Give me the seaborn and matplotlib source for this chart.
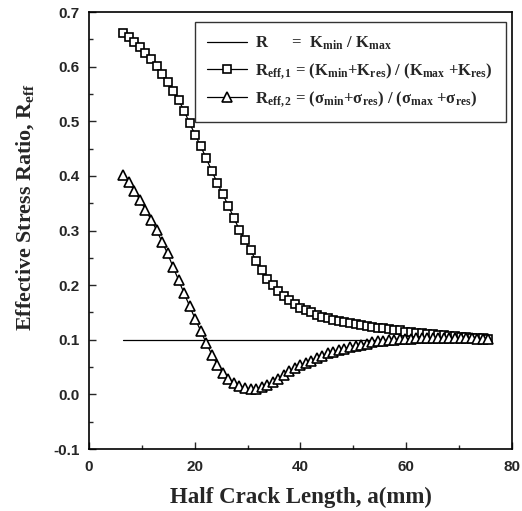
import matplotlib
matplotlib.use("Agg")
import matplotlib.pyplot as plt
import seaborn as sns
import pandas as pd
from matplotlib.ticker import MultipleLocator

# half crack length a (mm) at the plotted points
a_mm = [6.50, 7.55, 8.59, 9.64, 10.68, 11.73, 12.77, 13.82, 14.86, 15.91,
        16.95, 18.00, 19.05, 20.09, 21.14, 22.18, 23.23, 24.27, 25.32, 26.36,
        27.41, 28.45, 29.50, 30.55, 31.59, 32.64, 33.68, 34.73, 35.77, 36.82,
        37.86, 38.91, 39.95, 41.00, 42.05, 43.09, 44.14, 45.18, 46.23, 47.27,
        48.32, 49.36, 50.41, 51.45, 52.50, 53.55, 54.59, 55.64, 56.68, 57.73,
        58.77, 59.82, 60.86, 61.91, 62.95, 64.00, 65.05, 66.09, 67.14, 68.18,
        69.23, 70.27, 71.32, 72.36, 73.41, 74.45, 75.50]

# R = Kmin/Kmax (constant)
r_nominal = [0.1] * len(a_mm)

# Reff,1 (squares)
r_eff1 = [0.662, 0.654, 0.646, 0.636, 0.625, 0.614, 0.601, 0.587, 0.571, 0.555,
          0.539, 0.519, 0.496, 0.475, 0.454, 0.432, 0.409, 0.387, 0.366, 0.345,
          0.323, 0.301, 0.282, 0.264, 0.245, 0.228, 0.212, 0.200, 0.189, 0.180,
          0.172, 0.165, 0.159, 0.154, 0.150, 0.146, 0.142, 0.139, 0.137, 0.134,
          0.132, 0.130, 0.129, 0.127, 0.125, 0.124, 0.122, 0.121, 0.119, 0.118,
          0.117, 0.115, 0.114, 0.113, 0.112, 0.111, 0.110, 0.109, 0.108, 0.107,
          0.106, 0.105, 0.105, 0.104, 0.103, 0.103, 0.102]

# Reff,2 (triangles)
r_eff2 = [0.401, 0.389, 0.372, 0.356, 0.338, 0.320, 0.301, 0.279, 0.258, 0.233,
          0.209, 0.185, 0.161, 0.138, 0.116, 0.094, 0.073, 0.054, 0.039, 0.029,
          0.021, 0.015, 0.011, 0.009, 0.010, 0.013, 0.017, 0.023, 0.029, 0.035,
          0.042, 0.048, 0.053, 0.058, 0.062, 0.067, 0.071, 0.075, 0.078, 0.081,
          0.084, 0.087, 0.089, 0.091, 0.093, 0.095, 0.097, 0.098, 0.099, 0.100,
          0.101, 0.102, 0.102, 0.103, 0.103, 0.103, 0.104, 0.104, 0.104, 0.104,
          0.103, 0.103, 0.103, 0.103, 0.102, 0.102, 0.102]

labels = [
    "R      =  K$_{min}$ / K$_{max}$",
    "R$_{eff,1}$ = (K$_{min}$+K$_{res}$) / (K$_{max}$ +K$_{res}$)",
    "R$_{eff,2}$ = (σ$_{min}$+σ$_{res}$) / (σ$_{max}$ +σ$_{res}$)",
]

sns.set_style("ticks")
plt.rcParams["font.family"] = ["Liberation Sans", "DejaVu Sans"]
plt.rcParams["mathtext.fontset"] = "custom"
plt.rcParams["mathtext.rm"] = "Liberation Serif:bold"
plt.rcParams["mathtext.it"] = "Liberation Serif:bold"
plt.rcParams["mathtext.bf"] = "Liberation Serif:bold"
plt.rcParams["mathtext.default"] = "rm"

df = pd.DataFrame({"a": a_mm, "R": r_nominal, "R1": r_eff1, "R2": r_eff2})

fig = plt.figure(figsize=(5.22, 5.11), dpi=100)
ax = fig.add_axes([0.1705, 0.1213, 0.8103, 0.8552])

sns.lineplot(data=df, x="a", y="R", ax=ax, color="black", lw=0.9, label=labels[0])
sns.lineplot(data=df, x="a", y="R1", ax=ax, color="black", lw=0.9, marker="s",
             markersize=6, markerfacecolor="white", markeredgecolor="black",
             markeredgewidth=1.2, label=labels[1])
sns.lineplot(data=df, x="a", y="R2", ax=ax, color="black", lw=0.9, marker="^",
             markersize=6.5, markerfacecolor="white", markeredgecolor="black",
             markeredgewidth=1.2, label=labels[2])

ax.set_xlim(0, 80)
ax.set_ylim(-0.1, 0.7)
ax.xaxis.set_major_locator(MultipleLocator(20))
ax.xaxis.set_minor_locator(MultipleLocator(10))
ax.yaxis.set_major_locator(MultipleLocator(0.1))
ax.yaxis.set_minor_locator(MultipleLocator(0.05))
ax.yaxis.set_major_formatter(plt.FuncFormatter(lambda v, p: f"{v:.1f}"))
ax.tick_params(which="both", direction="in", width=1.0, labelsize=11)
ax.tick_params(which="major", length=5)
ax.tick_params(which="minor", length=3)
ax.tick_params(axis="y", pad=7)
ax.tick_params(axis="x", pad=8)
for lab in ax.get_xticklabels() + ax.get_yticklabels():
    lab.set_fontweight("bold")
for s in ax.spines.values():
    s.set_linewidth(1.2)
    s.set_color("black")

ax.set_xlabel("Half Crack Length, a(mm)", family="Liberation Serif",
              fontweight="bold", fontsize=16.5, labelpad=9)
ax.set_ylabel("Effective Stress Ratio, R$_{eff}$", family="Liberation Serif",
              fontweight="bold", fontsize=15.8)
ax.yaxis.set_label_coords(-0.125, 0.554)

leg = ax.legend(loc="upper right", bbox_to_anchor=(0.985, 0.976), borderaxespad=0,
                frameon=True, fancybox=False, edgecolor="black",
                prop={"family": "Liberation Serif", "weight": "bold", "size": 12},
                handlelength=2.4, handletextpad=0.5, labelspacing=0.5,
                borderpad=0.75)
leg.get_frame().set_linewidth(1.0)

fig.savefig("out.png", dpi=100)
